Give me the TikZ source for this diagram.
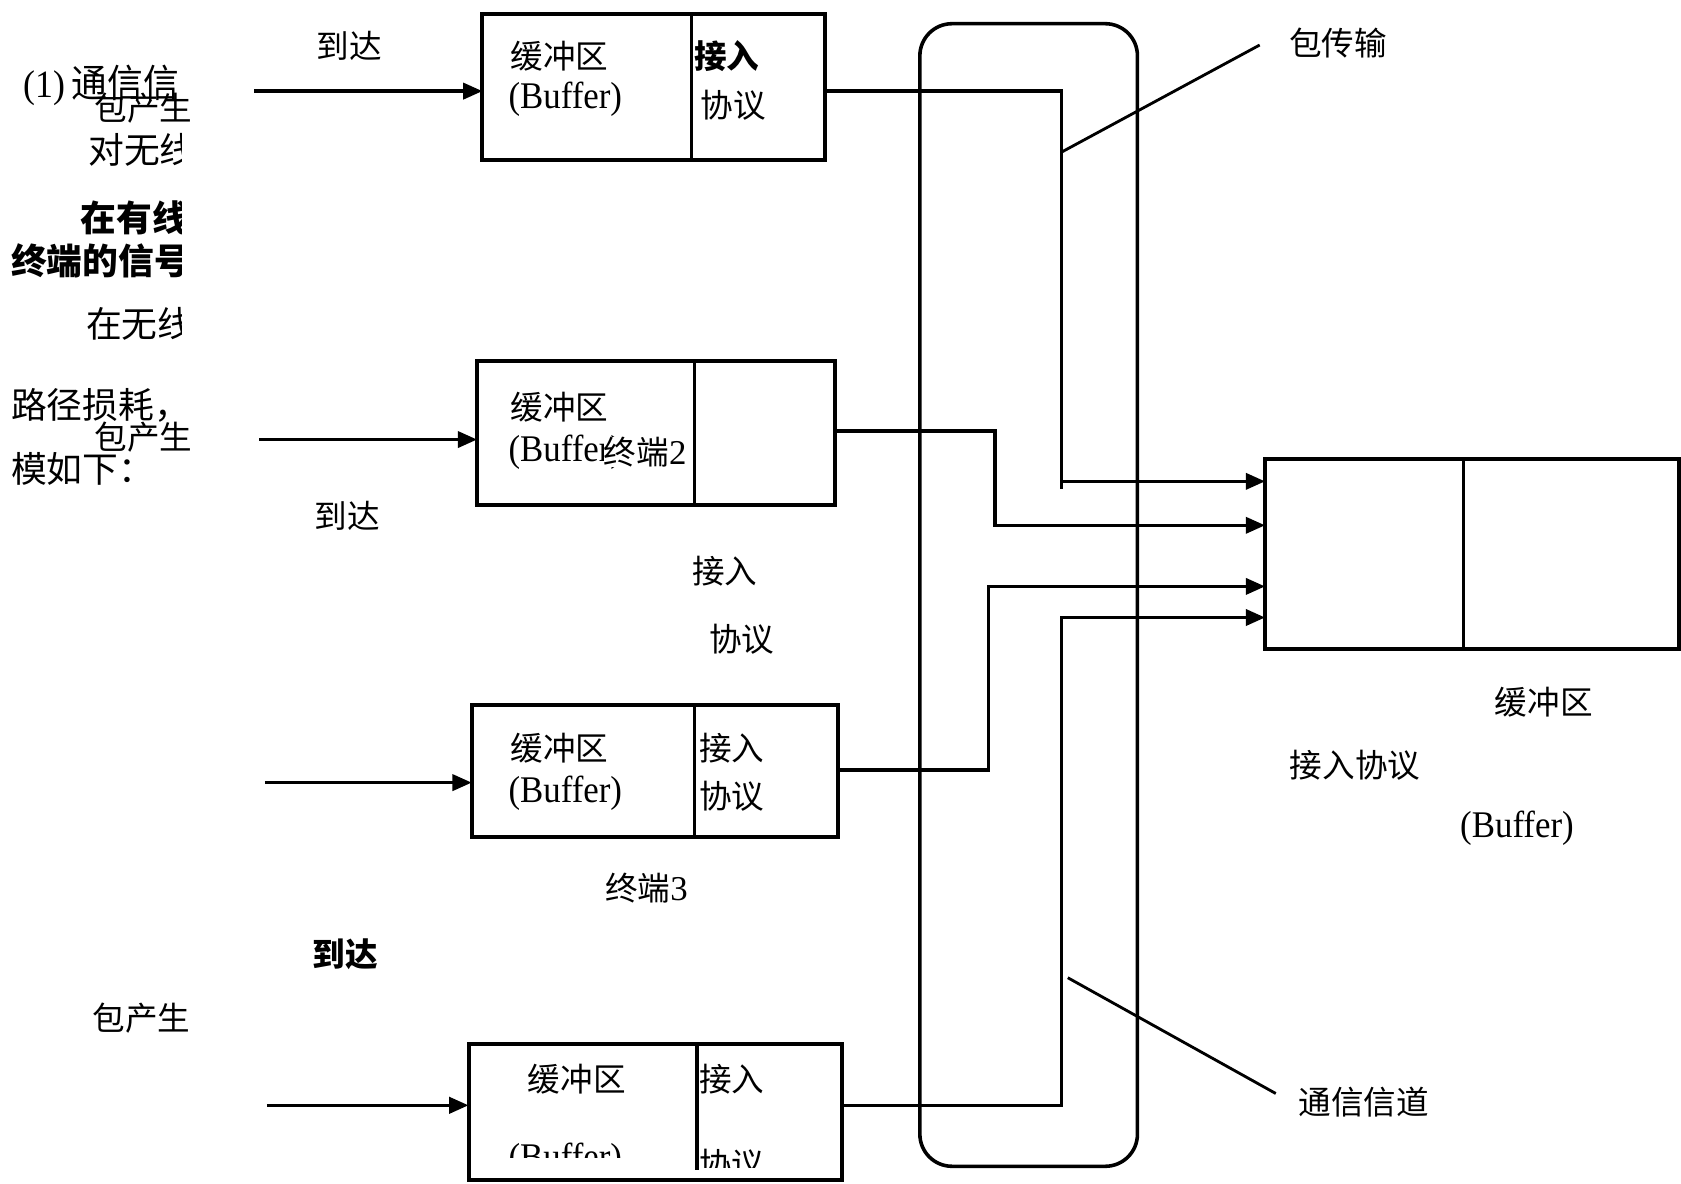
\documentclass[tikz,border=0pt]{standalone}
\usepackage{fontspec}
\setmainfont{Liberation Serif}
\newfontfamily\cjk{Noto Sans CJK SC}
\usetikzlibrary{arrows.meta}
\newcommand\zhsize{\fontsize{17.3}{20}\selectfont}
\newcommand\zhbig{\fontsize{19}{22}\selectfont}
\begin{document}
\begin{tikzpicture}[x=0.02cm,y=-0.02cm,
  ln/.style={line width=1.9pt},
  arr/.style={line width=1.9pt,-{Triangle[length=0.36cm,width=0.3cm]}},
  frame/.style={draw,line width=2.1pt,inner sep=0,outer sep=0},
  zh/.style={inner sep=0,font=\zhsize\cjk},
  zhw/.style={inner sep=0,font=\zhsize\cjk,anchor=west},
  zhb/.style={inner sep=0,font=\zhbig\cjk,anchor=west},
  lat/.style={inner sep=0,font=\fontsize{18.5}{21}\selectfont,anchor=west,yscale=1.08}]
\useasboundingbox (0,0) rectangle (1568,1104);
% ---- left text fragments
\begin{scope}
\clip (0,0) rectangle (169,460);
\node[lat,font=\zhbig] (t1) at (22,80) {(1)\,{\cjk 通信信}};
\node[zhb] (t3) at (82,140) {对无线};
\node[zhb,font=\zhbig\cjk\bfseries] (t4) at (75,203) {在有线};
\node[zhb,font=\zhbig\cjk\bfseries] (t5) at (10,243) {终端的信号};
\node[zhb] (t6) at (80,302) {在无线};
\end{scope}
\node[zhw] (t2) at (88,101) {包产生};
\node[zhb] (t7) at (10,378) {路径损耗，};
\node[zhw] (t8) at (88,408) {包产生};
\node[zhb] (t9) at (10,437) {模如下：};
\node[zhw] (t10) at (86,950) {包产生};
% ---- boxes
\node[frame,minimum width=6.4cm,minimum height=2.72cm] (b1) at (610,81) {};
\node[frame,minimum width=6.68cm,minimum height=2.68cm] (b2) at (612,404) {};
\node[frame,minimum width=6.84cm,minimum height=2.46cm] (b3) at (611,719.5) {};
\node[frame,minimum width=6.96cm,minimum height=2.54cm] (b4) at (611,1037.5) {};
\node[frame,minimum width=7.72cm,minimum height=3.54cm] (rb) at (1373,516.5) {};
\node[frame,line width=1.9pt,rounded corners=0.6cm,minimum width=4.06cm,minimum height=21.32cm] (ch) at (959.5,555) {};
\draw[ln] (b1.north -| 645,0) -- (b1.south -| 645,0);
\draw[ln] (b2.north -| 648,0) -- (b2.south -| 648,0);
\draw[ln] (b3.north -| 648,0) -- (b3.south -| 648,0);
\draw[ln] (b4.north -| 650,0) -- (650,1091);
\draw[ln] (rb.north -| 1365,0) -- (rb.south -| 1365,0);
% ---- box texts
\node[zhw] (b1a) at (476,52) {缓冲区};
\node[lat] (b1b) at (474,93) {(Buffer)};
\node[zhw,font=\zhsize\cjk\bfseries] (b1c) at (647,52) {接入};
\node[zhw] (b1d) at (653,98) {协议};
\node[zhw] (b2a) at (476,380) {缓冲区};
\node[lat] (b2b) at (474,422) {(Buffer)};
\node[zhw,fill=white] (b2c) at (563,422) {终端{\fontsize{18.5}{21}\selectfont\rmfamily 2}};
\node[zhw] (b3a) at (476,698) {缓冲区};
\node[lat] (b3b) at (474,740) {(Buffer)};
\node[zhw] (b3c) at (652,698) {接入};
\node[zhw] (b3d) at (652,743) {协议};
\node[zhw] (b4a) at (492,1007) {缓冲区};
\node[zhw] (b4c) at (652,1007) {接入};
\begin{scope}
\clip (440,1040) rectangle (640,1080);
\node[lat] (b4b) at (474,1082) {(Buffer)};
\end{scope}
\begin{scope}
\clip (652,1040) rectangle (785,1089);
\node[zhw] (b4d) at (652,1086) {协议};
\end{scope}
% ---- free labels
\node[zh] (l1) at (326,43) {到达};
\node[zh] (l2) at (324,481) {到达};
\node[zh,font=\zhsize\cjk\bfseries] (l3) at (322,890) {到达};
\node[zh] (l4) at (676,533) {接入};
\node[zh] (l5) at (692,596) {协议};
\node[zh] (l6) at (603,828) {终端{\fontsize{18.5}{21}\selectfont\rmfamily 3}};
\node[zh] (l7) at (1248,40) {包传输};
\node[zh] (l8) at (1272,1028) {通信信道};
\node[zh] (l9) at (1440,655) {缓冲区};
\node[zh] (l10) at (1264,714) {接入协议};
\node[lat,anchor=center] (l11) at (1415,773) {(Buffer)};
% ---- input arrows
\coordinate (s1) at (237,85);
\coordinate (s2) at (242,410);
\coordinate (s3) at (247,730);
\coordinate (s4) at (249,1031);
\draw[arr] (s1) -- (s1 -| b1.west);
\draw[arr] (s2) -- (s2 -| b2.west);
\draw[arr] (s3) -- (s3 -| b3.west);
\draw[arr] (s4) -- (s4 -| b4.west);
% ---- output routes
\coordinate (j1) at (990,85);
\coordinate (j2) at (928,402);
\coordinate (j3) at (922,718);
\coordinate (j4) at (990,1031);
\draw[arr] (b1.east |- j1) -- (j1) -- (990,449) -- (rb.west |- 0,449);
\draw[ln] (990,449) -- (990,456);
\draw[arr] (b2.east |- j2) -- (j2) -- (928,490) -- (rb.west |- 0,490);
\draw[arr] (b3.east |- j3) -- (j3) -- (922,547) -- (rb.west |- 0,547);
\draw[arr] (b4.east |- j4) -- (j4) -- (990,576) -- (rb.west |- 0,576);
% ---- pointer lines
\coordinate (p1) at (990,142);
\coordinate (p1e) at (1175,42);
\coordinate (p2) at (996,912);
\coordinate (p2e) at (1190,1020);
\draw[line width=1.5pt] (p1) -- (p1e);
\draw[line width=1.5pt] (p2) -- (p2e);
\end{tikzpicture}
\end{document}
